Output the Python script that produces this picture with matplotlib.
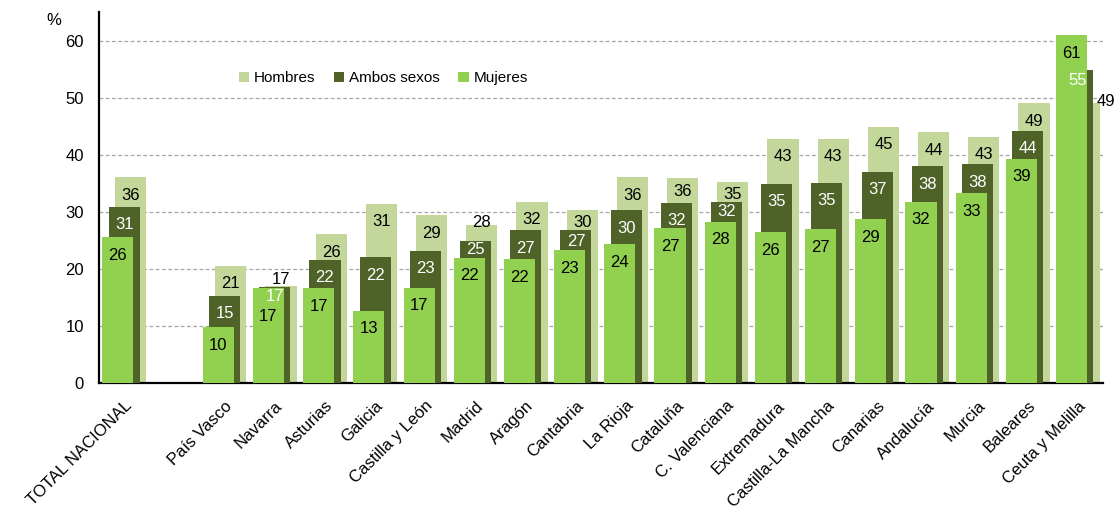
import matplotlib
matplotlib.use("Agg")
import matplotlib.pyplot as plt
import numpy as np

regions = [
    "TOTAL NACIONAL", "", "País Vasco", "Navarra", "Asturias", "Galicia",
    "Castilla y León", "Madrid", "Aragón", "Cantabria", "La Rioja", "Cataluña",
    "C. Valenciana", "Extremadura", "Castilla-La Mancha", "Canarias",
    "Andalucía", "Murcia", "Baleares", "Ceuta y Melilla",
]
hombres = [36.1, None, 20.6, 17.0, 26.1, 31.4, 29.4, 27.7, 31.8, 30.3, 36.1,
           36.0, 35.3, 42.8, 42.8, 44.9, 44.0, 43.2, 49.0, 49.0]
ambos = [30.9, None, 15.3, 16.8, 21.6, 22.1, 23.2, 24.9, 26.8, 26.8, 30.3,
         31.6, 31.8, 34.9, 35.1, 37.0, 38.0, 38.4, 44.2, 54.9]
mujeres = [25.6, None, 9.8, 16.6, 16.6, 12.7, 16.7, 22.0, 21.7, 23.3, 24.3,
           27.1, 28.3, 26.4, 27.0, 28.7, 31.8, 33.3, 39.3, 61.0]
yticks = [0, 10, 20, 30, 40, 50, 60]

plt.rcParams["font.family"] = ["Liberation Sans", "DejaVu Sans"]
plt.rcParams["font.size"] = 12

c_h = "#C4D79B"
c_a = "#4F6228"
c_m = "#92D050"

x = np.arange(len(regions))
width = 0.62
shift = 0.125

fig = plt.figure(figsize=(11.18, 5.08), dpi=100)
ax = fig.add_axes([0.0886, 0.246, 0.898, 0.730])

def vals(v):
    return np.array([np.nan if a is None else a for a in v], dtype=float)

h = vals(hombres)
a = vals(ambos)
m = vals(mujeres)

ax.bar(x + shift, h, width, color=c_h, label="Hombres", zorder=2)
ax.bar(x, a, width, color=c_a, label="Ambos sexos", zorder=3)
ax.bar(x - shift, m, width, color=c_m, label="Mujeres", zorder=4)

# label nudges (points) where labels would overlap
nudge = {
    ("h", 3): (0, 5), ("a", 3): (0, -7), ("m", 3): (0, -20),
    ("h", 7): (0, 1.5), ("a", 7): (0, -6),
    ("h", 9): (0, -9), ("a", 9): (0, -8),
    ("h", 11): (0, -10),
    ("h", 12): (0, -9), ("a", 12): (0, -7),
    ("a", 19): (0, -8), ("h", 19): (16, 1.5),
}
for key, series, off, col, z in [("h", h, shift, "black", 5),
                                 ("a", a, 0, "white", 6),
                                 ("m", m, -shift, "black", 7)]:
    for i, v in enumerate(series):
        if np.isnan(v):
            continue
        dx, dy = nudge.get((key, i), (0, -13))
        ax.annotate(f"{v:.0f}", (x[i] + off, v), xytext=(dx, dy),
                    textcoords="offset points", ha="center", va="center",
                    color=col, fontsize=12, zorder=z)

ax.set_xlim(-0.5, len(regions) - 0.5)
ax.set_ylim(0, 65)
ax.set_yticks(yticks)
ax.yaxis.grid(True, linestyle=(0, (3, 2)), color="#A6A6A6", linewidth=0.9)
ax.set_axisbelow(True)
ax.tick_params(axis="y", length=0, pad=11, labelsize=12)
ax.tick_params(axis="x", length=0, pad=11)
ax.set_xticks(x)
ax.set_xticklabels(regions, rotation=45, ha="right", rotation_mode="anchor",
                   fontsize=12)

for s in ["top", "right"]:
    ax.spines[s].set_visible(False)
for s in ["left", "bottom"]:
    ax.spines[s].set_linewidth(1.6)
    ax.spines[s].set_color("black")

ax.text(-0.045, 0.978, "%", transform=ax.transAxes, ha="center", va="center",
        fontsize=12)

ax.legend(loc="center", bbox_to_anchor=(0.283, 0.822), ncol=3, frameon=False,
          handlelength=0.7, handleheight=0.7, handletextpad=0.3,
          columnspacing=1.2, fontsize=11)

fig.savefig("out.png", dpi=100)
